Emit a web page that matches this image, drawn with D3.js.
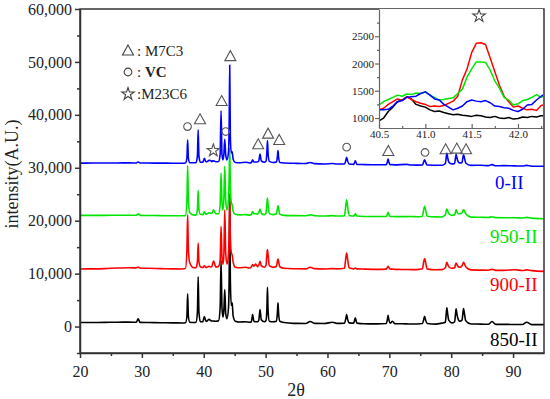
<!DOCTYPE html>
<html>
<head>
<meta charset="utf-8">
<script src="https://cdn.jsdelivr.net/npm/d3@7"></script>
<style>
body { margin: 0; background: #fff; }
</style>
</head>
<body>
<script>
var serif = "Liberation Serif, Times New Roman, serif";

// 2theta grid shared by the four patterns (raw counts, offsets added when drawn)
var twoTheta = [20, 22, 24, 26, 28, 29.1, 29.4, 29.7, 31, 33, 35, 36.5,
  37.05, 37.28, 37.4, 37.52, 37.75, 38.4, 38.75, 38.98, 39.1, 39.22, 39.45,
  39.85, 40.1, 40.35, 40.6, 40.85, 41.1, 41.3, 41.45, 41.6, 41.75, 41.95,
  42.4, 42.65, 42.8, 42.95, 43.1, 43.25, 43.4, 43.55, 43.75, 44.0, 44.12, 44.2, 44.3, 44.45, 44.6, 44.75, 45.1,
  45.8, 46.8, 47.4, 47.7, 47.9, 48.1, 48.4, 48.7, 48.9, 49.1, 49.3, 49.8,
  50.05, 50.2, 50.3, 50.4, 50.6, 51.2, 51.75, 51.9, 52.0, 52.1, 52.3,
  53, 54.5, 56.5, 57.2, 57.9, 59.5, 60.8, 61.5,
  62.75, 62.95, 63.1, 63.25, 63.5, 64.25, 64.5, 64.75, 66, 68,
  69.5, 69.68, 69.8, 69.92, 70.15, 70.5, 70.9, 72.8, 73.5, 74.5,
  75.35, 75.55, 75.7, 75.85, 76.1, 77.5, 78.5,
  79.05, 79.2, 79.3, 79.42, 79.6, 80.1, 80.55, 80.7, 80.8, 80.92, 81.15, 81.4,
  81.75, 81.9, 82.0, 82.12, 82.35, 83.2, 84.8, 86.0, 86.6, 87.2, 88.5, 90.3, 91.5, 92.2, 93.0, 95];

var int850 = [750, 760, 790, 820, 830, 800, 1450, 790, 760, 720, 690, 680,
  720, 1900, 6170, 1900, 800, 750, 800, 2800, 9380, 2800, 900,
  900, 1900, 1000, 1100, 1380, 1150, 1060, 1050, 1040, 1020, 1000,
  1100, 3500, 12500, 3500, 1800, 3000, 7000, 2500, 1500, 3500, 10000, 25000, 9000, 4000, 4470, 2000, 1000,
  850, 900, 800, 900, 2260, 1000, 900, 900, 1200, 3200, 1300, 900,
  1100, 3000, 7420, 3000, 1000, 900, 1000, 2500, 4470, 2500, 1000,
  750, 600, 580, 950, 600, 580, 800, 600,
  650, 1400, 2260, 1400, 700, 650, 1640, 650, 520, 500,
  560, 1300, 2130, 1300, 650, 1000, 530, 500, 480, 480,
  560, 1300, 1950, 1300, 560, 460, 650,
  800, 2500, 3520, 2500, 1200, 700, 900, 2400, 3330, 2400, 1300, 1000,
  1200, 2600, 3400, 2600, 1100, 480, 460, 420, 950, 410, 410, 390, 380, 800, 370, 360];

var int900 = [880, 900, 950, 1050, 1100, 1080, 1250, 1060, 1000, 950, 900, 880,
  950, 4500, 11130, 4500, 2000, 1100, 1100, 2300, 5790, 2300, 1300,
  1150, 1500, 1150, 1250, 1380, 1250, 1300, 1900, 2380, 1900, 1250,
  1400, 2500, 8920, 3000, 1800, 3500, 12000, 4000, 1800, 3500, 9000, 14300, 7000, 4000, 3500, 2200, 1200,
  1100, 1200, 1050, 1300, 1700, 1400, 1800, 1300, 1600, 2320, 1500, 1200,
  1500, 3500, 4530, 3500, 1500, 1200, 1400, 2300, 2770, 2300, 1300,
  1000, 920, 900, 1190, 950, 880, 950, 900,
  1000, 2800, 3900, 2800, 1100, 900, 1070, 900, 850, 800,
  850, 1150, 1380, 1150, 850, 850, 800, 780, 760, 760,
  900, 2200, 2830, 2200, 900, 720, 750,
  1100, 1800, 2130, 1800, 1300, 1000, 1100, 1700, 2020, 1700, 1300, 1200,
  1500, 1900, 2130, 1900, 1300, 700, 660, 640, 800, 620, 620, 720, 600, 700, 560, 430];

var int950 = [1000, 1000, 1010, 1020, 1030, 1020, 1300, 1010, 990, 960, 930, 920,
  950, 3800, 10400, 3800, 1500, 1050, 1050, 2200, 5720, 2200, 1200,
  1150, 1700, 1200, 1350, 1480, 1400, 1360, 1750, 2050, 1700, 1300,
  1300, 3000, 9000, 3500, 2000, 4000, 10300, 4000, 2000, 4000, 9000, 13700, 7000, 3500, 3000, 1800, 1200,
  1100, 1150, 1050, 1200, 1750, 1300, 1300, 1250, 1500, 2200, 1400, 1150,
  1400, 3000, 4280, 3000, 1400, 1150, 1300, 2300, 2830, 2300, 1200,
  1000, 950, 920, 1100, 920, 880, 950, 880,
  900, 2700, 3960, 2700, 1000, 880, 1300, 880, 800, 780,
  800, 1200, 1570, 1200, 800, 800, 760, 760, 800, 740,
  850, 2100, 2700, 2100, 850, 720, 700,
  1100, 1900, 2200, 1900, 1300, 1000, 1100, 1700, 2080, 1700, 1300, 1300,
  1500, 1900, 2080, 1900, 1300, 680, 640, 600, 750, 580, 560, 550, 520, 620, 480, 380];

var int0 = [880, 890, 900, 910, 920, 910, 1100, 900, 890, 880, 860, 850,
  900, 1800, 5300, 1800, 950, 950, 950, 2300, 7170, 2300, 1050,
  1050, 1800, 1150, 1200, 1400, 1380, 1150, 1320, 1300, 1250, 1150,
  1200, 2500, 10750, 2500, 1500, 2500, 5400, 2500, 1500, 3000, 9000, 19430, 6000, 2800, 3000, 1600, 1000,
  950, 1050, 900, 1000, 1500, 1100, 1100, 1100, 1300, 2580, 1300, 1050,
  1200, 2800, 5150, 2800, 1200, 1000, 1100, 2000, 3270, 2000, 1000,
  900, 850, 800, 1000, 780, 720, 800, 700,
  700, 1300, 2000, 1300, 700, 650, 1300, 650, 600, 560,
  560, 1100, 1640, 1100, 580, 600, 540, 650, 520, 500,
  520, 1100, 1500, 1100, 520, 480, 470,
  800, 2000, 2770, 2000, 1100, 700, 800, 1900, 2580, 1900, 1100, 900,
  1000, 2000, 2450, 2000, 900, 450, 480, 400, 600, 380, 400, 350, 330, 450, 300, 280];

var seriesNames = ["850-II", "900-II", "950-II", "0-II"];
var seriesOffsets = [0, 10000, 20000, 30000];
var seriesColors = ["#000000", "#ff0000", "#00e600", "#0000ff"];

// zoomed window 40.5 - 42.3, step 0.05
var insetTheta = [40.50, 40.55, 40.60, 40.65, 40.70, 40.75, 40.80, 40.85, 40.90, 40.95,
  41.00, 41.05, 41.10, 41.15, 41.20, 41.25, 41.30, 41.35, 41.40, 41.45,
  41.50, 41.55, 41.60, 41.65, 41.70, 41.75, 41.80, 41.85, 41.90, 41.95,
  42.00, 42.05, 42.10, 42.15, 42.20, 42.25, 42.30];
var inset850 = [950, 1000, 1120, 1200, 1300, 1330, 1390, 1350, 1250, 1220,
  1200, 1150, 1120, 1130, 1100, 1080, 1060, 1070, 1050, 1040,
  1030, 1050, 1040, 1020, 1010, 1030, 1000, 990, 1010, 980,
  990, 1020, 1010, 1030, 1020, 1040, 1040];
var inset900 = [1150, 1180, 1250, 1300, 1350, 1320, 1390, 1340, 1300, 1270,
  1250, 1210, 1220, 1210, 1230, 1270, 1310, 1400, 1700, 1900,
  2200, 2370, 2380, 2350, 2100, 1850, 1600, 1400, 1300, 1200,
  1220, 1180, 1150, 1160, 1140, 1230, 1250];
var inset950 = [1240, 1300, 1340, 1380, 1420, 1400, 1440, 1430, 1460, 1450,
  1480, 1420, 1380, 1330, 1340, 1360, 1370, 1450, 1530, 1750,
  1900, 2030, 2030, 2020, 1880, 1680, 1550, 1380, 1330, 1240,
  1260, 1320, 1340, 1380, 1430, 1380, 1420];
var inset0 = [1150, 1150, 1160, 1220, 1300, 1320, 1380, 1390, 1400, 1450,
  1480, 1420, 1350, 1330, 1250, 1200, 1150, 1180, 1220, 1300,
  1330, 1310, 1300, 1320, 1280, 1220, 1210, 1190, 1180, 1140,
  1120, 1160, 1240, 1250, 1330, 1400, 1450];

// phase marks above the 0-II pattern
var markTheta = [37.38, 39.4, 41.55, 42.9, 43.55, 44.3, 48.8, 50.4, 52.2, 63.1, 69.84, 75.77, 79.1, 80.9, 82.4];
var markLevel = [37790, 39060, 33260, 42510, 36850, 51000, 34340, 36360, 35150, 33900, 33080, 32890, 33400, 33530, 33400];
var markPhase = ["VC", "M7C3", "M23C6", "M7C3", "VC", "M7C3", "M7C3", "M7C3", "M7C3", "VC", "M7C3", "VC", "M7C3", "M7C3", "M7C3"];

var xTicks = [20, 30, 40, 50, 60, 70, 80, 90];
var yTicks = [0, 10000, 20000, 30000, 40000, 50000, 60000];

var svg = d3.select("body").append("svg")
    .attr("width", 550)
    .attr("height", 399);

var x = d3.scaleLinear().domain([20, 95]).range([80, 544]);
var y = d3.scaleLinear().domain([-5000, 60000]).range([353, 9]);

svg.append("clipPath").attr("id", "plotclip")
  .append("rect").attr("x", 80).attr("y", 9).attr("width", 464).attr("height", 344);

var line = d3.line()
    .x(function(d) { return x(d[0]); })
    .y(function(d) { return y(d[1]); })
    .curve(d3.curveMonotoneX);

var allSeries = [int850, int900, int950, int0];
var plot = svg.append("g").attr("clip-path", "url(#plotclip)");
allSeries.forEach(function(vals, i) {
  var pts = twoTheta.map(function(t, j) { return [t, vals[j] + seriesOffsets[i]]; });
  plot.append("path")
    .attr("d", line(pts))
    .attr("fill", "none")
    .attr("stroke", seriesColors[i])
    .attr("stroke-width", 1.6)
    .attr("stroke-linejoin", "round");
});

// axes
var axisColor = "#333";
var gx = svg.append("g").attr("transform", "translate(0,353)")
  .call(d3.axisBottom(x).tickValues(xTicks).tickSize(5).tickSizeOuter(0).tickPadding(8));
svg.append("g").attr("transform", "translate(0,353)")
  .call(d3.axisBottom(x).tickValues(d3.range(25, 95, 10)).tickSize(3).tickFormat(""))
  .select(".domain").remove();

var gy = svg.append("g").attr("transform", "translate(80,0)")
  .call(d3.axisLeft(y).tickValues(yTicks).tickSize(5).tickSizeOuter(0).tickPadding(3).tickFormat(d3.format(",")));
svg.append("g").attr("transform", "translate(80,0)")
  .call(d3.axisLeft(y).tickValues(d3.range(-5000, 60000, 10000)).tickSize(3).tickFormat(""))
  .select(".domain").remove();

[gx, gy].forEach(function(g) {
  g.attr("font-family", serif).attr("font-size", 16);
  g.selectAll("text").attr("fill", "#222");
});
svg.selectAll(".domain, .tick line").attr("stroke", axisColor).attr("stroke-width", 1.5);

svg.append("rect")
  .attr("x", 80).attr("y", 9).attr("width", 464).attr("height", 344)
  .attr("fill", "none").attr("stroke", axisColor).attr("stroke-width", 1.5);

svg.append("text")
  .attr("x", 296).attr("y", 396)
  .attr("text-anchor", "middle").attr("font-size", 18).attr("fill", "#222")
  .attr("font-family", serif)
  .text("2θ");

svg.append("text")
  .attr("transform", "translate(18,174) rotate(-90)")
  .attr("text-anchor", "middle").attr("font-size", 18).attr("fill", "#222")
  .attr("font-family", serif)
  .text("intensity(A.U.)");

// series labels
var labelX = [490, 490, 490, 495];
var labelY = [346, 291, 243, 189];
seriesNames.forEach(function(n, i) {
  svg.append("text")
    .attr("x", labelX[i]).attr("y", labelY[i])
    .attr("font-size", 19).attr("fill", seriesColors[i])
    .attr("font-family", serif)
    .text(n);
});

// marker shapes
function markPath(kind) {
  if (kind === "M7C3") return "M0,-6L5.5,4L-5.5,4Z";
  if (kind === "VC") return d3.symbol().type(d3.symbolCircle).size(46)();
  return d3.symbol().type(d3.symbolStar).size(48)();
}

svg.selectAll(".mark")
  .data(markTheta)
  .enter().append("path")
  .attr("class", "mark")
  .attr("transform", function(d, i) { return "translate(" + x(d) + "," + y(markLevel[i]) + ")"; })
  .attr("d", function(d, i) { return markPath(markPhase[i]); })
  .attr("fill", "none").attr("stroke", "#555").attr("stroke-width", 1.1);

// legend
var legendPhases = ["M7C3", "VC", "M23C6"];
var legendText = [": M7C3", ": ", ":M23C6"];
var legendRowY = [51, 72, 94];
legendPhases.forEach(function(p, i) {
  svg.append("path")
    .attr("transform", "translate(128," + legendRowY[i] + ")")
    .attr("d", markPath(p))
    .attr("fill", "none").attr("stroke", "#444").attr("stroke-width", 1.1);
  var t = svg.append("text")
    .attr("x", 137).attr("y", legendRowY[i] + 5)
    .attr("font-size", 15).attr("fill", "#222")
    .attr("font-family", serif)
    .text(legendText[i]);
  if (p === "VC") t.append("tspan").attr("font-weight", "bold").text("VC");
});

// inset
var ix = d3.scaleLinear().domain([40.5, 42.27]).range([379, 543]);
var iy = d3.scaleLinear().domain([817, 3000]).range([128, 9]);

svg.append("rect").attr("x", 379).attr("y", 9).attr("width", 164).attr("height", 119).attr("fill", "#fff");
svg.append("clipPath").attr("id", "insetclip")
  .append("rect").attr("x", 379).attr("y", 9).attr("width", 164).attr("height", 119);

var iline = d3.line()
    .x(function(d) { return ix(d[0]); })
    .y(function(d) { return iy(d[1]); });

var insetSeries = [inset850, inset900, inset950, inset0];
var ig = svg.append("g").attr("clip-path", "url(#insetclip)");
insetSeries.forEach(function(vals, i) {
  var pts = insetTheta.map(function(t, j) { return [t, vals[j]]; });
  ig.append("path")
    .attr("d", iline(pts))
    .attr("fill", "none")
    .attr("stroke", seriesColors[i])
    .attr("stroke-width", 1.5)
    .attr("stroke-linejoin", "round");
});

var ixAxis = svg.append("g").attr("transform", "translate(0,128)")
  .call(d3.axisBottom(ix).tickValues([40.5, 41.0, 41.5, 42.0]).tickFormat(d3.format(".1f"))
    .tickSize(-4).tickSizeOuter(0).tickPadding(2));
var ixMinor = svg.append("g").attr("transform", "translate(0,128)")
  .call(d3.axisBottom(ix).tickValues([40.75, 41.25, 41.75, 42.25]).tickSize(-2).tickFormat(""));
ixMinor.select(".domain").remove();
var iyAxis = svg.append("g").attr("transform", "translate(379,0)")
  .call(d3.axisLeft(iy).tickValues([1000, 1500, 2000, 2500]).tickFormat(d3.format("d"))
    .tickSize(4).tickSizeOuter(0).tickPadding(1));
var iyMinor = svg.append("g").attr("transform", "translate(379,0)")
  .call(d3.axisLeft(iy).tickValues([1250, 1750, 2250, 2750]).tickSize(2).tickFormat(""));
iyMinor.select(".domain").remove();

[ixAxis, iyAxis, ixMinor, iyMinor].forEach(function(g) {
  g.attr("font-family", serif).attr("font-size", 11);
  g.selectAll("text").attr("fill", "#222");
  g.selectAll(".domain, .tick line").attr("stroke", "#666").attr("stroke-width", 1.2);
});

// star over the inset peak
svg.append("path")
  .attr("transform", "translate(" + ix(41.58) + "," + iy(2870) + ")")
  .attr("d", markPath("M23C6"))
  .attr("fill", "none").attr("stroke", "#444").attr("stroke-width", 1.1);
</script>
</body>
</html>
